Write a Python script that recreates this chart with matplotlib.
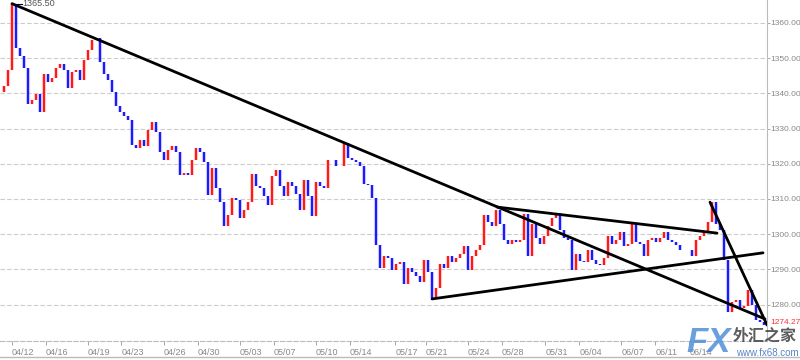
import numpy as np
import matplotlib.pyplot as plt
from matplotlib.lines import Line2D

plt.rcParams['font.family'] = ['Liberation Sans', 'DejaVu Sans']

# cierres por barra (una barra cada 4 px del original)
closes = [
    1340.4, 1342.1, 1346.6, 1365.5, 1352.9, 1350.6, 1347.2, 1337.0, 1338.1, 1339.8,
    1334.7, 1345.5, 1343.2, 1344.4, 1347.2, 1348.4, 1346.6, 1341.5, 1346.1, 1346.6,
    1343.8, 1349.5, 1352.3, 1355.2, 1355.7, 1348.9, 1345.5, 1343.8, 1340.4, 1336.4,
    1334.7, 1333.6, 1332.4, 1325.3, 1324.5, 1326.8, 1325.1, 1329.6, 1331.9, 1329.0,
    1323.4, 1321.1, 1323.9, 1325.1, 1323.4, 1316.8, 1317.4, 1316.8, 1321.1, 1324.5,
    1323.4, 1320.5, 1311.1, 1318.8, 1313.1, 1309.1, 1302.3, 1305.5, 1310.3, 1309.7,
    1304.6, 1306.9, 1309.1, 1317.1, 1313.7, 1313.1, 1310.9, 1308.3, 1316.5, 1318.2,
    1313.7, 1310.9, 1314.8, 1313.7, 1311.4, 1306.9, 1315.4, 1310.9, 1305.2, 1314.8,
    1313.7, 1313.1, 1321.1, 1321.1, 1319.4, 1319.4, 1325.9, 1321.6, 1321.1, 1320.5,
    1319.4, 1314.3, 1314.0, 1310.3, 1296.9, 1290.4, 1293.8, 1293.2, 1289.8, 1291.5,
    1292.1, 1285.9, 1290.4, 1289.3, 1288.1, 1286.4, 1292.7, 1289.3, 1281.9, 1284.7,
    1291.5, 1290.4, 1293.8, 1292.1, 1293.2, 1294.4, 1296.6, 1289.8, 1293.8, 1295.5,
    1296.9, 1305.5, 1303.5, 1302.3, 1306.9, 1302.9, 1298.4, 1297.2, 1298.4, 1297.8,
    1298.4, 1305.7, 1293.8, 1302.9, 1298.9, 1297.2, 1299.5, 1302.3, 1304.6, 1306.0,
    1301.2, 1298.9, 1298.4, 1289.8, 1294.4, 1292.4, 1292.1, 1295.5, 1292.7, 1291.5,
    1291.3, 1293.2, 1299.5, 1297.2, 1298.4, 1300.6, 1296.6, 1297.2, 1302.9, 1297.8,
    1297.2, 1293.8, 1298.4, 1298.9, 1297.8, 1298.9, 1300.6, 1298.4, 1297.8, 1296.9,
    1295.5, 1295.5, 1295.5, 1293.8, 1298.4, 1299.5, 1300.6, 1303.5, 1309.2, 1302.9,
    1301.2, 1292.7, 1277.9, 1280.7, 1281.3, 1279.0, 1279.6, 1284.1, 1279.9, 1275.6,
    1275.1, 1274.27,
]

# etiquetas de fecha y su posicion (indice de barra)
fechas = ['04/12', '04/16', '04/19', '04/23', '04/26', '04/30', '05/03', '05/07',
          '05/10', '05/14', '05/17', '05/21', '05/24', '05/28', '05/31', '06/04',
          '06/07', '06/11', '06/14']
pos_fechas = [3.0, 11.5, 22.0, 30.3, 41.0, 49.5, 60.0, 68.5, 79.0, 87.5,
              98.8, 106.5, 117.0, 125.5, 136.3, 144.8, 155.3, 163.8, 172.3]

# lineas de tendencia: (x0, y0, x1, y1)
tendencias = [
    (3.0, 1365.5, 191.25, 1275.9),
    (124.25, 1307.7, 179.25, 1300.3),
    (108.0, 1281.6, 190.75, 1294.7),
    (177.5, 1309.1, 191.75, 1274.2),
]

niveles = [1280, 1290, 1300, 1310, 1320, 1330, 1340, 1350, 1360]
maximo = 1365.50
ultimo = 1274.27


def graficar():
    fig = plt.figure(figsize=(8, 3.6), dpi=100)
    ax = fig.add_axes([0, 19 / 360, 767 / 800, 341 / 360])

    c = np.array(closes)
    o = np.concatenate([[c[0]], c[:-1]])
    x = np.arange(len(c))
    sube = c >= o
    ax.vlines(x[sube], o[sube], c[sube], color='#ff9a9a', lw=3.0, alpha=0.45, zorder=2)
    ax.vlines(x[~sube], o[~sube], c[~sube], color='#9a9aff', lw=3.0, alpha=0.45, zorder=2)
    ax.vlines(x[sube], o[sube], c[sube], color='#ff1a1a', lw=1.5, zorder=3)
    ax.vlines(x[~sube], o[~sube], c[~sube], color='#1a1aff', lw=1.5, zorder=3)

    for x0, y0, x1, y1 in tendencias:
        ax.plot([x0, x1], [y0, y1], color='black', lw=2, zorder=4, solid_capstyle='round')

    # etiqueta del maximo
    ax.plot([3.0, 5.5], [maximo, maximo], color='black', lw=0.8, zorder=4)
    ax.text(5.7, maximo, f'{maximo:.2f}', fontsize=6.5, color='#555555',
            va='center', ha='left')

    ax.set_xlim(0, 767 / 4)
    ax.set_ylim(1269.65, 1366.53)

    for n in niveles:
        ax.axhline(n, color='#cccccc', lw=0.8, ls=(0, (4, 2)), zorder=1)

    ax.yaxis.tick_right()
    ax.set_yticks(niveles)
    ax.set_yticklabels([f'{n:.2f}' for n in niveles])
    ax.tick_params(axis='y', length=2, width=0.6, color='#999999', labelsize=6,
                   labelcolor='#888888', pad=0.5)

    ax.set_xticks(pos_fechas)
    ax.set_xticklabels(fechas, ha='left')
    ax.tick_params(axis='x', length=3, width=0.6, color='#999999', labelsize=6.5,
                   labelcolor='#888888', pad=2)

    for s in ['top', 'left']:
        ax.spines[s].set_visible(False)
    ax.spines['right'].set_color('#bbbbbb')
    ax.spines['bottom'].set_color('#bbbbbb')
    ax.spines['bottom'].set_linestyle((0, (4, 2)))
    ax.spines['bottom'].set_linewidth(0.8)

    # ultimo precio
    fig.text(770 / 800, 1 - 322 / 360, f'{ultimo:.2f}', fontsize=6, color='#ff3030',
             va='center', ha='left')

    fig.add_artist(Line2D([0, 1], [3.5 / 360, 3.5 / 360], color='#bbbbbb', lw=1))

    # marca de agua
    fig.text(686 / 800, 1 - 342 / 360, 'FX', fontsize=25, fontweight='bold',
             style='italic', color='#4f8fd8', alpha=0.85, va='center', ha='left', zorder=10)
    fig.text(733 / 800, 1 - 336 / 360, '外汇之家', fontsize=11.5, fontweight='bold',
             color='#333333', alpha=0.8, va='center', ha='left', zorder=10,
             family=['Noto Sans CJK SC', 'DejaVu Sans'])
    fig.text(736 / 800, 1 - 353 / 360, 'www.fx68.com', fontsize=7,
             color='#3a6fc0', alpha=0.85, va='center', ha='left', zorder=10)

    fig.savefig('out.png', dpi=100)


if __name__ == "__main__":
    graficar()
